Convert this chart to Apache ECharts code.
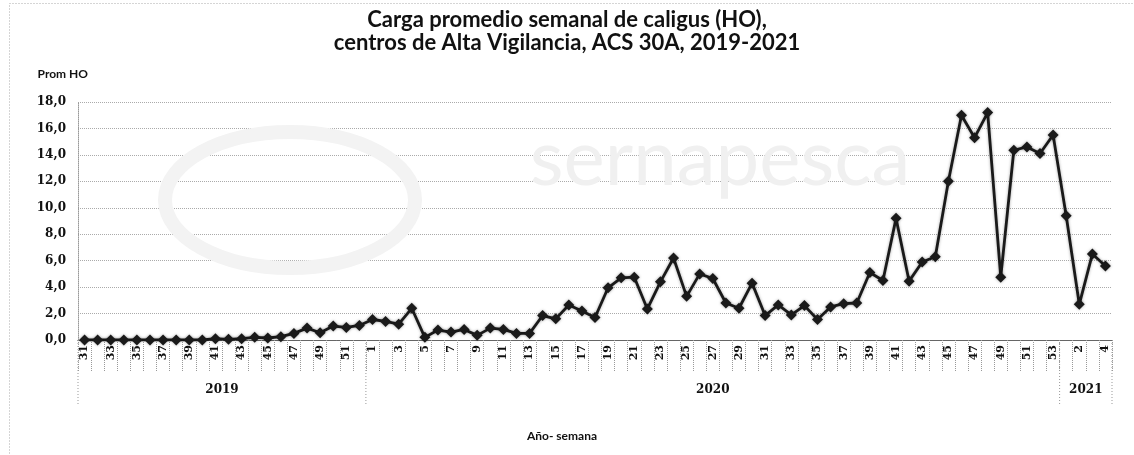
<!DOCTYPE html>
<html>
<head>
<meta charset="utf-8">
<script src="https://cdn.jsdelivr.net/npm/echarts@6/dist/echarts.min.js"></script>
<style>
html,body{margin:0;padding:0;background:#fff;}
#c{width:1134px;height:455px;}
</style>
</head>
<body>
<div id="c"></div>
<script>
// ---- data ----
const weeks2019 = [31,32,33,34,35,36,37,38,39,40,41,42,43,44,45,46,47,48,49,50,51,52];
const weeks2020 = [1,2,3,4,5,6,7,8,9,10,11,12,13,14,15,16,17,18,19,20,21,22,23,24,25,26,27,28,29,30,31,32,33,34,35,36,37,38,39,40,41,42,43,44,45,46,47,48,49,50,51,52,53];
const weeks2021 = [1,2,3,4];
const values2019 = [0,0,0,0,0,0,0,0,0,0,0.1,0.05,0.1,0.2,0.15,0.25,0.5,0.9,0.55,1.05,0.95,1.1];
const values2020 = [1.55,1.4,1.2,2.4,0.2,0.75,0.6,0.8,0.35,0.9,0.8,0.5,0.5,1.85,1.6,2.65,2.2,1.7,3.95,4.7,4.75,2.35,4.4,6.2,3.3,5.0,4.65,2.8,2.4,4.3,1.85,2.65,1.9,2.6,1.55,2.5,2.75,2.8,5.1,4.5,9.2,4.45,5.9,6.3,12.0,17.0,15.3,17.2,4.75,14.35,14.6,14.1,15.5];
const values2021 = [9.4,2.7,6.5,5.6];
const yearLabels = ['2019','2020','2021'];
const titleLines = ['Carga promedio semanal de caligus (HO),','centros de Alta Vigilancia, ACS 30A, 2019-2021'];

// ---- build ----
const groups = [
  {year: yearLabels[0], weeks: weeks2019, values: values2019},
  {year: yearLabels[1], weeks: weeks2020, values: values2020},
  {year: yearLabels[2], weeks: weeks2021, values: values2021}
];
const categories = [];
const values = [];
groups.forEach(g => {
  g.weeks.forEach((w, i) => { categories.push(String(w)); values.push(g.values[i]); });
});

const sansFont = 'Lato, "Open Sans", sans-serif';
const serifFont = '"DejaVu Serif", "Liberation Serif", serif';

const chart = echarts.init(document.getElementById('c'));
const option = {
  animation: false,
  backgroundColor: '#fff',
  title: {
    text: titleLines.join('\n'),
    left: 'center',
    top: 3,
    textStyle: {fontFamily: sansFont, fontWeight: 'bold', fontSize: 22, lineHeight: 23, color: '#111'}
  },
  grid: {left: 78, right: 22, top: 102, bottom: 115},
  xAxis: {
    type: 'category',
    data: categories,
    boundaryGap: true,
    axisLine: {show: true, lineStyle: {color: '#666', width: 1}},
    axisTick: {show: true, interval: 0, length: 32, lineStyle: {color: '#999', type: 'dotted'}},
    axisLabel: {
      interval: 1, rotate: 90, margin: 5,
      fontFamily: serifFont, fontWeight: 'bold', fontSize: 11, color: '#111'
    },
    splitLine: {show: false}
  },
  yAxis: {
    type: 'value',
    min: 0, max: 18, interval: 2,
    name: 'Prom HO',
    nameLocation: 'end',
    nameGap: 22,
    nameTextStyle: {fontFamily: sansFont, fontWeight: 'bold', fontSize: 12, color: '#111', align: 'right', padding: [0, -10, 0, 0]},
    axisLine: {show: true, lineStyle: {color: '#999', type: 'dotted'}},
    axisTick: {show: false},
    axisLabel: {
      margin: 12,
      fontFamily: serifFont, fontWeight: 'bold', fontSize: 12, color: '#111',
      formatter: v => v.toFixed(1).replace('.', ',')
    },
    splitLine: {show: true, lineStyle: {color: '#aaa', type: 'dotted', width: 1}}
  },
  series: [{
    type: 'line',
    data: values,
    symbol: 'diamond',
    symbolSize: 11,
    showAllSymbol: true,
    itemStyle: {color: '#1a1a1a', shadowColor: 'rgba(0,0,0,0.35)', shadowBlur: 3},
    lineStyle: {color: '#1a1a1a', width: 2.8, shadowColor: 'rgba(0,0,0,0.35)', shadowBlur: 3},
    z: 5
  }]
};
chart.setOption(option);

// year group separators and labels, positioned through the axis scale
const step = chart.convertToPixel({xAxisIndex: 0}, 1) - chart.convertToPixel({xAxisIndex: 0}, 0);
const yBase = chart.convertToPixel({yAxisIndex: 0}, 0);
const graphics = [];
// faint watermark
graphics.push({
  type: 'text', silent: true, z: 0,
  style: {
    text: 'sernapesca', x: 720, y: 160, align: 'center', verticalAlign: 'middle',
    font: '78px Lato, "Open Sans", sans-serif', fill: '#f0f0f0'
  }
});
graphics.push({
  type: 'ellipse', silent: true, z: 0,
  shape: {cx: 290, cy: 200, rx: 125, ry: 68},
  style: {fill: 'none', stroke: '#f3f3f3', lineWidth: 14}
});
let start = 0;
const bounds = [];
groups.forEach(g => {
  const end = start + g.weeks.length - 1;
  const x0 = chart.convertToPixel({xAxisIndex: 0}, start) - step / 2;
  const x1 = chart.convertToPixel({xAxisIndex: 0}, end) + step / 2;
  bounds.push(x0, x1);
  graphics.push({
    type: 'text',
    style: {
      text: g.year, x: (x0 + x1) / 2, y: yBase + 50,
      align: 'center', verticalAlign: 'middle',
      font: 'bold 12px "DejaVu Serif", "Liberation Serif", serif', fill: '#111'
    }
  });
  start = end + 1;
});
[...new Set(bounds.map(b => Math.round(b * 10) / 10))].forEach(x => {
  graphics.push({
    type: 'line',
    shape: {x1: x, y1: yBase, x2: x, y2: yBase + 66},
    style: {stroke: '#999', lineWidth: 1, lineDash: [1, 2]}
  });
});
graphics.push({
  type: 'text',
  style: {
    text: 'Año- semana', x: 562, y: 436, align: 'center', verticalAlign: 'middle',
    font: 'bold 12px Lato, "Open Sans", sans-serif', fill: '#111'
  }
});
// outer chart border
graphics.push({
  type: 'rect', silent: true,
  shape: {x: 9.5, y: 3.5, width: 1130, height: 460},
  style: {fill: 'none', stroke: '#aaa', lineWidth: 1, lineDash: [1, 2]}
});
chart.setOption({graphic: graphics});
</script>
</body>
</html>
